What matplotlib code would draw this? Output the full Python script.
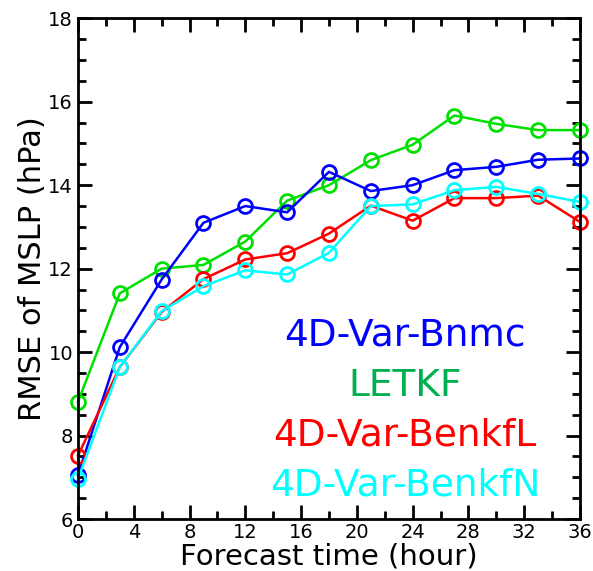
import numpy as np
import matplotlib
matplotlib.use('Agg')
import matplotlib.pyplot as plt
from matplotlib.ticker import MultipleLocator

hours = [0, 3, 6, 9, 12, 15, 18, 21, 24, 27, 30, 33, 36]

bnmc = [7.06, 10.12, 11.74, 13.10, 13.50, 13.35, 14.32, 13.86, 14.00, 14.36, 14.44, 14.61, 14.64]
letkf = [8.81, 11.41, 12.00, 12.09, 12.65, 13.63, 14.00, 14.60, 14.97, 15.67, 15.47, 15.32, 15.32]
benkfl = [7.52, 9.64, 10.96, 11.75, 12.22, 12.37, 12.84, 13.51, 13.15, 13.69, 13.69, 13.75, 13.12]
benkfn = [6.96, 9.64, 10.98, 11.58, 11.96, 11.86, 12.38, 13.50, 13.54, 13.88, 13.96, 13.79, 13.60]

names = ['4D-Var-Bnmc', 'LETKF', '4D-Var-BenkfL', '4D-Var-BenkfN']
line_colors = ['#0000ff', '#00e000', '#ff0000', '#00ffff']
text_colors = ['#0000ff', '#00b050', '#ff0000', '#00ffff']

fig = plt.figure(figsize=(5.93, 5.71), dpi=100)
ax = fig.add_axes([0.1315, 0.091, 0.8465, 0.877])

# draw order: green first, then blue, red, cyan on top
for vals, c in zip([letkf, bnmc, benkfl, benkfn], [line_colors[1], line_colors[0], line_colors[2], line_colors[3]]):
    ax.plot(hours, vals, color=c, lw=1.8, marker='o', ms=10, mfc='none', mec=c, mew=2, clip_on=False)

ax.set_xlim(0, 36)
ax.set_ylim(6, 18)
ax.xaxis.set_major_locator(MultipleLocator(4))
ax.xaxis.set_minor_locator(MultipleLocator(2))
ax.yaxis.set_major_locator(MultipleLocator(2))
ax.yaxis.set_minor_locator(MultipleLocator(0.5))
ax.tick_params(which='both', direction='in', top=True, right=True, width=2, labelsize=14)
ax.tick_params(which='major', length=10)
ax.tick_params(which='minor', length=6)
ax.tick_params(axis='x', pad=3)
for s in ax.spines.values():
    s.set_linewidth(2)

ax.set_xlabel('Forecast time (hour)', fontsize=21, labelpad=0)
ax.set_ylabel('RMSE of MSLP (hPa)', fontsize=22, labelpad=1)

ypos = [10.4, 9.2, 8.0, 6.8]
for name, c, yy in zip(names, text_colors, ypos):
    ax.text(23.45, yy, name, color=c, fontsize=27, ha='center', va='center')

fig.savefig('out.png', dpi=100)
